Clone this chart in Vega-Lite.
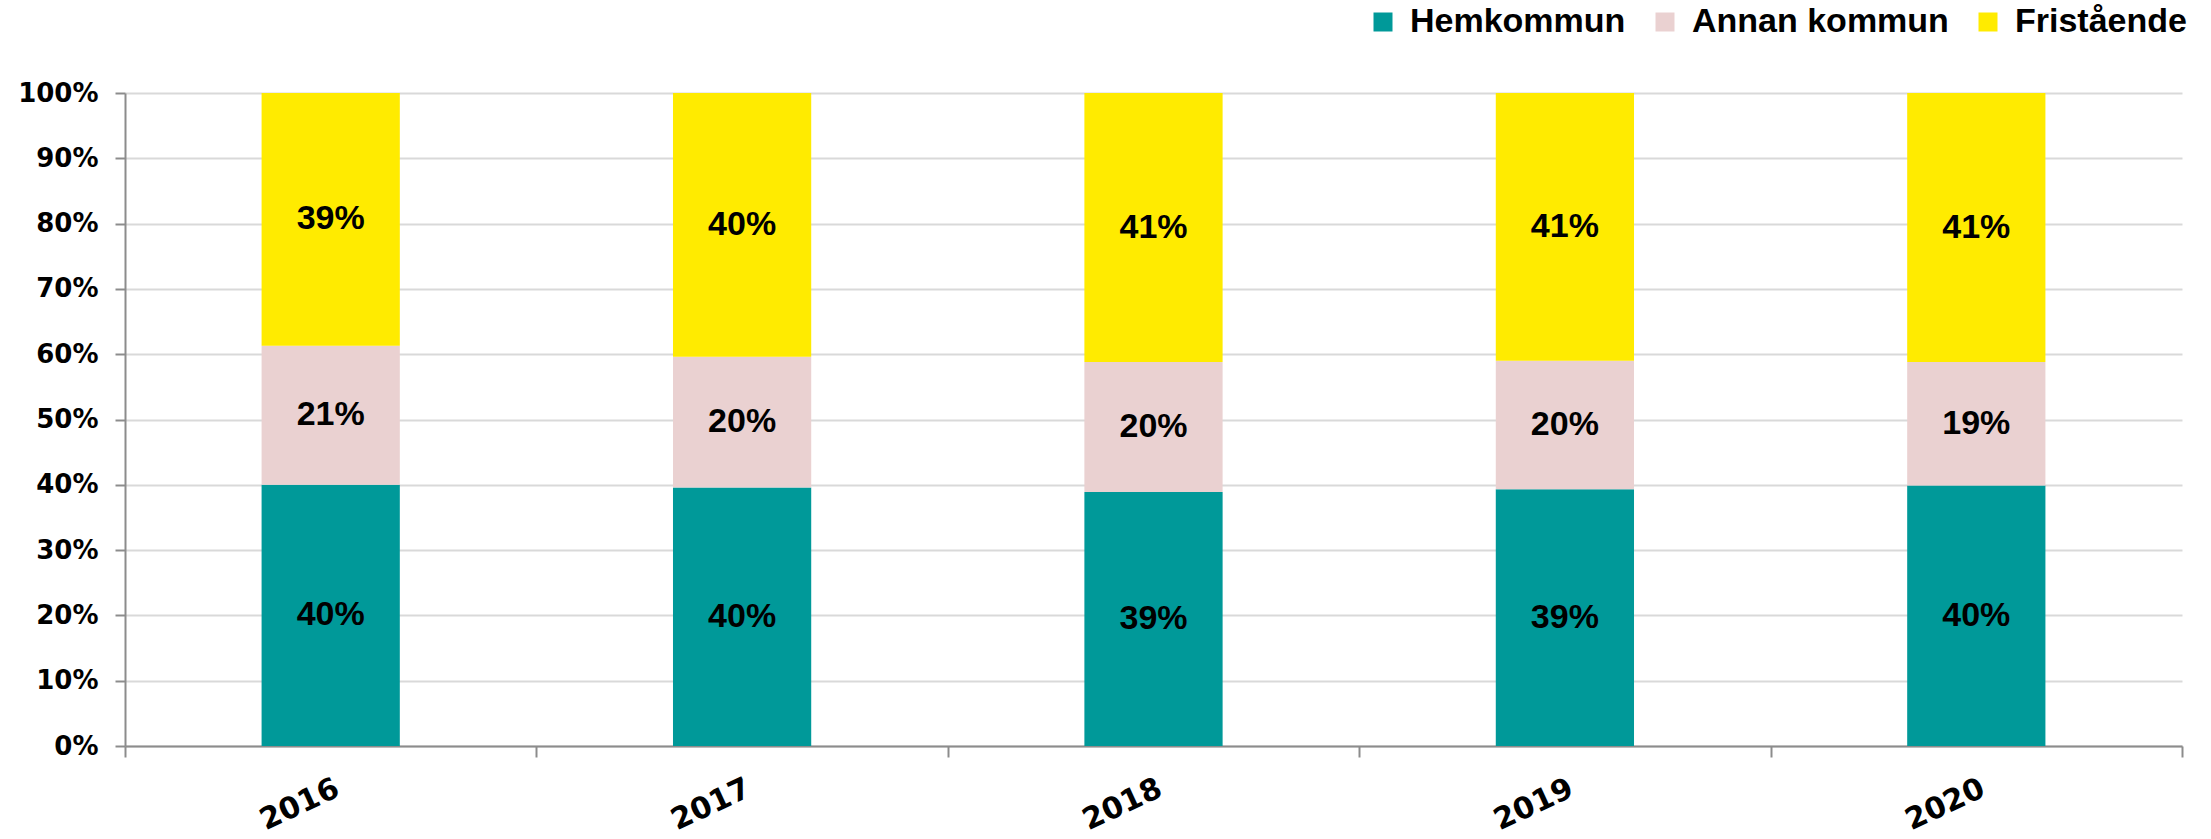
{
  "$schema": "https://vega.github.io/schema/vega-lite/v6.json",
  "width": 2057,
  "height": 653,
  "autosize": {"type": "none"},
  "padding": {"left": 125, "top": 93, "right": 29, "bottom": 93},
  "background": "white",
  "config": {"view": {"stroke": null}},
  "data": {
    "values": [
      {"year": "2016", "kategori": "Hemkommun", "ord": 1, "value": 0.400},
      {"year": "2016", "kategori": "Annan kommun", "ord": 2, "value": 0.213},
      {"year": "2016", "kategori": "Fristående", "ord": 3, "value": 0.387},
      {"year": "2017", "kategori": "Hemkommun", "ord": 1, "value": 0.396},
      {"year": "2017", "kategori": "Annan kommun", "ord": 2, "value": 0.200},
      {"year": "2017", "kategori": "Fristående", "ord": 3, "value": 0.404},
      {"year": "2018", "kategori": "Hemkommun", "ord": 1, "value": 0.389},
      {"year": "2018", "kategori": "Annan kommun", "ord": 2, "value": 0.199},
      {"year": "2018", "kategori": "Fristående", "ord": 3, "value": 0.412},
      {"year": "2019", "kategori": "Hemkommun", "ord": 1, "value": 0.393},
      {"year": "2019", "kategori": "Annan kommun", "ord": 2, "value": 0.197},
      {"year": "2019", "kategori": "Fristående", "ord": 3, "value": 0.410},
      {"year": "2020", "kategori": "Hemkommun", "ord": 1, "value": 0.399},
      {"year": "2020", "kategori": "Annan kommun", "ord": 2, "value": 0.189},
      {"year": "2020", "kategori": "Fristående", "ord": 3, "value": 0.412}
    ]
  },
  "encoding": {
    "x": {
      "field": "year",
      "type": "nominal",
      "scale": {"paddingInner": 0, "paddingOuter": 0},
      "axis": {
        "title": null,
        "tickBand": "extent",
        "labelAngle": -25,
        "labelFont": "DejaVu Sans",
        "labelFontWeight": "bold",
        "labelFontSize": 30,
        "labelColor": "#000000",
        "labelPadding": 16,
        "domainColor": "#8c8c8c",
        "domainWidth": 2,
        "tickColor": "#8c8c8c",
        "tickWidth": 2,
        "tickSize": 11,
        "grid": false
      }
    },
    "y": {
      "field": "value",
      "type": "quantitative",
      "stack": "zero",
      "scale": {"domain": [0, 1], "nice": false},
      "axis": {
        "title": null,
        "values": [0, 0.1, 0.2, 0.3, 0.4, 0.5, 0.6, 0.7, 0.8, 0.9, 1],
        "format": ".0%",
        "labelFont": "DejaVu Sans",
        "labelFontWeight": "bold",
        "labelFontSize": 26,
        "labelColor": "#000000",
        "labelPadding": 17,
        "domainColor": "#8c8c8c",
        "domainWidth": 2,
        "tickColor": "#8c8c8c",
        "tickWidth": 2,
        "tickSize": 10,
        "grid": true,
        "gridColor": "#d9d9d9",
        "gridWidth": 2
      }
    },
    "order": {"field": "ord", "type": "quantitative", "sort": "ascending"}
  },
  "layer": [
    {
      "mark": {"type": "bar", "width": {"band": 0.336}},
      "encoding": {
        "color": {
          "field": "kategori",
          "type": "nominal",
          "sort": ["Hemkommun", "Annan kommun", "Fristående"],
          "scale": {
            "domain": ["Hemkommun", "Annan kommun", "Fristående"],
            "range": ["#009999", "#EAD1D1", "#FFEB00"]
          },
          "legend": {
            "title": null,
            "orient": "none",
            "legendX": 1241,
            "legendY": -88,
            "direction": "horizontal",
            "symbolType": "square",
            "symbolSize": 361,
            "symbolStrokeWidth": 0,
            "symbolOpacity": 1,
            "labelFont": "Liberation Sans",
            "labelFontWeight": "bold",
            "labelFontSize": 34,
            "labelLimit": 0,
            "labelColor": "#000000",
            "labelOffset": 10,
            "columnPadding": 22
          }
        }
      }
    },
    {
      "mark": {"type": "text", "font": "Liberation Sans", "fontWeight": "bold", "fontSize": 34, "color": "#000000", "baseline": "middle"},
      "encoding": {
        "y": {"field": "value", "type": "quantitative", "stack": "zero", "bandPosition": 0.5},
        "text": {"field": "value", "type": "quantitative", "format": ".0%"}
      }
    }
  ]
}
